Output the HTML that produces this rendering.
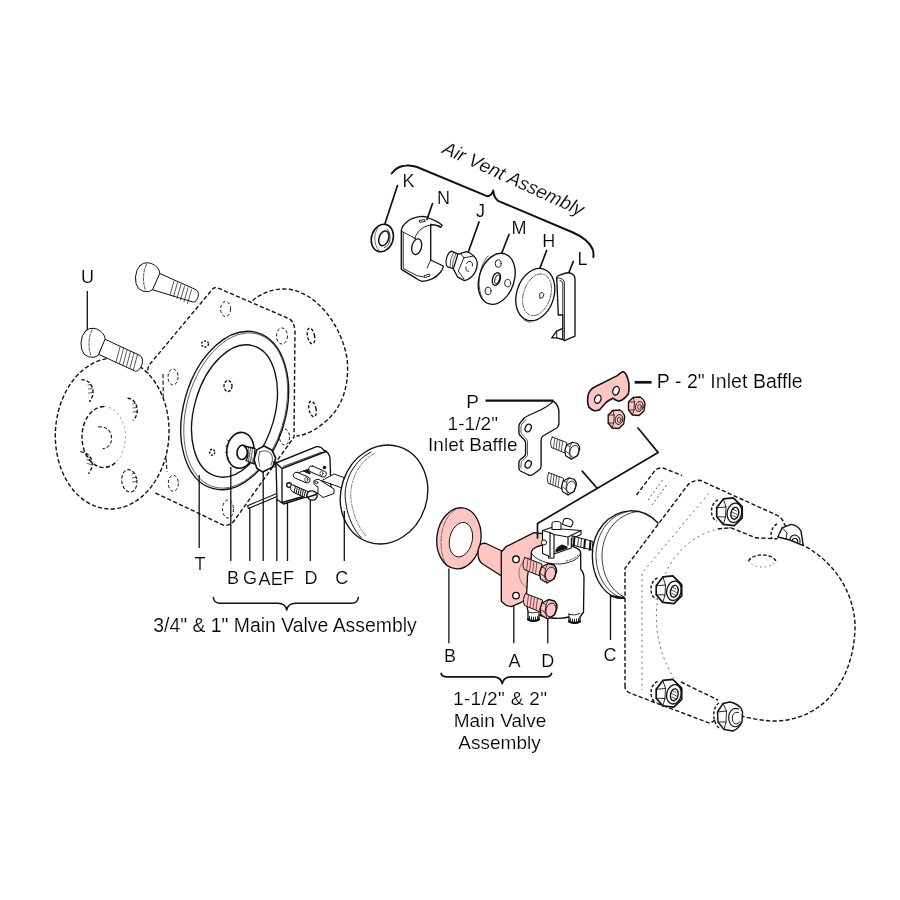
<!DOCTYPE html>
<html><head><meta charset="utf-8"><title>Parts Diagram</title>
<style>
html,body{margin:0;padding:0;background:#fff;}
body{width:900px;height:900px;overflow:hidden;}
svg{display:block;}
text{font-family:"Liberation Sans",Arial,Helvetica,sans-serif;fill:#000;stroke:#fff;stroke-width:.16px;filter:grayscale(1);}
.l{fill:none;stroke:#111;stroke-width:1.35;stroke-linecap:round;stroke-linejoin:round;}
.w{fill:#fff;stroke:#111;stroke-width:1.35;stroke-linecap:round;stroke-linejoin:round;}
.p{fill:#fdc6c3;stroke:#111;stroke-width:1.35;stroke-linecap:round;stroke-linejoin:round;}
.d{fill:none;stroke:#111;stroke-width:1.4;stroke-dasharray:4.2 2.3;stroke-linecap:butt;stroke-linejoin:round;}
.dw{fill:#fff;stroke:#111;stroke-width:1.4;stroke-dasharray:4.2 2.3;}
.t{fill:none;stroke:#111;stroke-width:0.7;stroke-linecap:round;}
.ld{fill:none;stroke:#111;stroke-width:1.3;}
.lb{fill:none;stroke:#111;stroke-width:2;stroke-linecap:round;stroke-linejoin:round;}
.lab{font-size:18px;text-anchor:middle;}
.cap{font-size:19px;text-anchor:middle;}
</style></head>
<body>
<svg width="900" height="900" viewBox="0 0 900 900">
<rect width="900" height="900" fill="#fff"/>
<!--LEFT-->
<g id="left">
<!-- rear flange -->
<path class="d" d="M252.5,300.5 C262,293 272,289 284,289 C312,289 340,320 347,358 C350,385 342,408 326,421 C316,430 306,435 296.5,436"/>
<ellipse class="d" cx="311" cy="336" rx="3.5" ry="8" transform="rotate(-12 311 336)" style="stroke-dasharray:3 2"/>
<ellipse class="d" cx="312.5" cy="409" rx="3.5" ry="8" transform="rotate(-12 312.5 409)" style="stroke-dasharray:3 2"/>
<!-- body plate -->
<path class="d" d="M155.5,493 L224,525.4 Q230,526 234,521 L294,437 L295,331 Q294,321 289,318.7 L218,288 Q214,286 211,291 L150,364 Q147,368 148,374"/>
<path class="d" style="stroke-width:1.100" d="M163,374 L163.500,420 L167,472"/>
<!-- plate holes -->
<ellipse class="d" cx="225.6" cy="309" rx="5" ry="7.5" style="stroke-dasharray:3 2.200;stroke-width:1"/>
<ellipse class="d" cx="282" cy="336" rx="5.5" ry="8" style="stroke-dasharray:3 2.200;stroke-width:1"/>
<ellipse class="d" cx="173" cy="377" rx="5" ry="8" style="stroke-dasharray:3 2.200;stroke-width:1"/>
<ellipse class="d" cx="205" cy="344" rx="3.5" ry="3" style="stroke-dasharray:2 1.5"/>
<ellipse class="d" cx="284.5" cy="437" rx="5" ry="8" style="stroke-dasharray:3 2.200;stroke-width:1"/>
<ellipse class="d" cx="173.3" cy="483.3" rx="5" ry="8" style="stroke-dasharray:3 2.200;stroke-width:1"/>
<ellipse class="d" cx="228" cy="509" rx="5.500" ry="9" style="stroke-dasharray:3 2.200;stroke-width:1"/>
<!-- left flange -->
<ellipse class="dw" cx="112.2" cy="433.5" rx="56.8" ry="75.5" transform="rotate(3 112 433)"/>
<path class="d" d="M104,406.500 A22,30.500 0 0 0 104,467.500 Q112,467 117,461"/><path class="d" d="M104,406.500 A22,30.500 0 0 1 117,461" style="stroke-width:.7;stroke:#666;stroke-dasharray:2 3"/>
<path class="d" d="M98.200,426.700 Q111,426.500 111.600,438.200 Q111.500,447 102.700,448.900" style="stroke-dasharray:3.500 2;stroke-width:1.100"/>
<path class="d" d="M81.300,379.600 Q91,380 92.900,390.200 Q93.500,397 89.300,401.800" style="stroke-dasharray:3.500 2"/>
<path class="t" d="M88,385 l3,-.7 M88.500,389 l3.500,-.5 M88.500,393 l3.500,-.3"/>
<path class="d" d="M127.600,398.200 Q136,399 137.300,409.800 Q137.500,416 132.900,420.400" style="stroke-dasharray:3.500 2"/>
<path class="t" d="M132.500,404 l3,-.7 M133,408 l3.500,-.5 M133,412 l3.500,-.3"/>
<ellipse class="d" cx="129.300" cy="480.900" rx="7.500" ry="11.300" transform="rotate(-8 129.300 480.900)" style="stroke-dasharray:3.500 2;stroke-width:1.100"/>
<path class="t" d="M132,474 l3,-.7 M132.500,478 l3.500,-.5 M132.500,482 l3.500,-.3"/>
<path class="d" d="M80.400,451.600 Q90,453 92,461.300 Q93,468 88.400,473.800" style="stroke-dasharray:3.500 2"/>
<path class="t" d="M86,456 l3.500,1.500 M87,459.500 l3.500,1.500 M87.500,463.500 l3.500,1"/>
<!-- bolts U -->
<g class="w" style="stroke-width:1">
<path d="M104.5,339 L140,355.5 C145,358 142,371 135.500,371.3 L99,354.5Z"/>
<path d="M85.500,331 Q89,327.500 94,328.300 Q101,329.500 104.500,336 L105.200,339 L98,355.500 L94,357.300 Q88,358 84,354 Q80.500,349.500 81,342.500 Q81.500,335 85.500,331Z"/>
<path d="M159.4,273.3 L196,289.7 C200.500,292 198,302.500 192.900,302 L152.4,289.7Z"/>
<path d="M140,265.500 Q143.500,262 148.500,262.800 Q155.500,264 159,270 L159.800,273.500 L152.500,289.800 L148.500,291.700 Q142.500,292.300 138.500,288.500 Q135,284 135.500,277 Q136,269.500 140,265.500Z"/>
</g>
<g class="t">
<path d="M120,347 l-4,15 M123.500,348.500 l-4,15 M127,350 l-4,15 M130.500,351.500 l-4,15 M134,353 l-4,15 M137.500,354.500 l-4,15"/>
<path d="M174,281 l-4,14 M177.500,282.700 l-4,14 M181,284.400 l-4,14 M184.500,286.100 l-4,14 M188,287.800 l-4,14 M191.500,289.500 l-4,14"/>
<path d="M92,330 Q86.500,342 91,356 M146.500,264.500 Q141,277 145.500,290.500" style="stroke-dasharray:3 1.500"/>
</g>
<!-- O-ring T -->
<ellipse class="w" cx="234.7" cy="410.5" rx="51" ry="81" transform="rotate(16 234.7 410.5)" style="fill:none"/>
<ellipse class="l" cx="235.7" cy="410.5" rx="49" ry="79.500" transform="rotate(16 235.7 410.5)" style="stroke-width:.6"/>
<ellipse class="l" cx="234.5" cy="411" rx="40.2" ry="67.8" transform="rotate(16 234.5 411)"/>
<ellipse class="d" cx="228" cy="386" rx="4" ry="5.5" style="stroke-dasharray:3 1.500;stroke-width:1.300"/>
<ellipse class="d" cx="212.2" cy="452.2" rx="2.500" ry="3" style="stroke-dasharray:2 1.500"/>

<!-- washer B -->
<ellipse class="w" cx="240.3" cy="450.3" rx="13.5" ry="18" transform="rotate(8 240.3 450.3)" style="stroke-width:1.600"/>
<path class="t" d="M229,441 l-2,-1 M228,446 l-2.500,0 M228,452 l-2.500,.5 M229,458 l-2,1"/>
<ellipse class="w" cx="242.300" cy="452.3" rx="5.2" ry="7.2" transform="rotate(8 242 452)" style="stroke-width:1.600"/>
<!-- stem + fitting A -->
<path class="w" d="M244,446 L255,448.500 L254,464 L246,460.500 C249,456 249,450 244,446Z"/>
<path class="t" d="M248.500,447.500 Q246.500,454 248.500,461.500 M250.500,448 Q248.500,455 250.500,462.400 M252.500,448.400 Q250.500,455.500 252.500,463.300"/>
<path class="w" d="M256.9,449.6 L264.1,446 L272.1,450.3 L275.7,458.2 L272.8,466.9 L262.7,472 L256.9,468.4 L254,459.7Z" style="stroke-width:1.600"/>
<path class="t" d="M259.500,452 Q266,449 271,453.500 Q274,459 271,465 M259.500,452 Q257,459 259.500,466"/>
<path class="l" d="M273,462 l3,1.500 l-1,3.500 l-3,-1" style="stroke-width:1"/>
<!-- pin G -->
<path class="w" d="M247.5,505.700 L281,491.700 L282,494.500 L248.500,508.500Z" style="stroke-width:1.100"/>
<!-- valve plate F -->
<path class="w" d="M276,463 L316.500,446.700 Q321.500,446.500 323.500,450 Q329,452 330,458 L331,489 L283.500,504 L277,499.500Z"/>
<path class="l" d="M282,468.500 L326,451.500 M282,468.500 L282,502.500 L305,496 M276,463 L282,468.500" />
<path class="l" d="M283.500,466.300 L322,452" style="stroke-width:.8"/>
<circle class="l" cx="289" cy="485" r="2.300"/>
<path d="M303,471 L310,468.500 L310,474Z" fill="#111" stroke="#111" stroke-width=".8"/>
<path class="l" d="M296.500,473.500 L303,471" style="stroke-width:1"/>
<path class="w" d="M297.300,472.300 L308,477 A3,3 0 0 1 306,482.800 L295.500,478.200 A3,3 0 0 1 297.300,472.300Z" style="stroke-width:1"/>
<ellipse class="l" cx="306.300" cy="479.600" rx="1.500" ry="2.300" style="stroke-width:.7"/>
<path class="w" d="M312.500,466 L324,471 A3,3 0 0 1 322.500,477 L311,472 A3,3 0 0 1 312.500,466Z" style="stroke-width:1"/>
<ellipse class="l" cx="321.500" cy="473.500" rx="1.500" ry="2.300" style="stroke-width:.7"/>
<circle cx="324.500" cy="467.500" r="1.700" fill="#111"/>
<!-- arm to float -->
<path class="w" d="M322,480.500 L334,474 L344,477.500 L342,487.500Z" style="stroke-width:1"/>
<path class="w" d="M314,481 Q316,478.500 319,479.500 L334,489 L334,493.500 L323,497.500 L318,493.500 L318,487 Q313,485 314,481Z" style="stroke-width:1"/>
<circle class="l" cx="316.500" cy="482.500" r="1.300" style="stroke-width:.8"/>
<!-- screw D spring -->
<path class="w" d="M294,485.500 L308,491.500 L306,498 L292.500,492 A2,3.400 -20 0 1 294,485.500Z" style="stroke-width:1"/>
<path class="l" d="M295.500,486 l-1.500,6.500 M297.500,487 l-1.500,6.500 M299.500,488 l-1.500,6.500 M301.500,488.800 l-1.500,6.500 M303.500,489.600 l-1.500,6.500 M305.500,490.500 l-1.500,6.500" style="stroke-width:1"/>
<ellipse class="w" cx="312" cy="495.500" rx="5.200" ry="4.600" transform="rotate(20 312 495.5)"/>
<path class="l" d="M308.500,497 L316,494.500" style="stroke-width:1.400"/>
<!-- float C -->
<ellipse class="w" cx="384" cy="494.500" rx="43" ry="50" transform="rotate(18 384 494.500)"/>
<path class="l" d="M371,452 C352,462 342,484 346,504 C348,518 354,530 361,537.500" style="stroke-width:1"/>
<path class="t" d="M375,453 C357,463 348,484 351.500,503 C353.500,516 359,528 366,536" style="stroke-dasharray:5 1.500 2 1.500;stroke-width:.5"/>
<!-- leaders -->
<path class="ld" d="M87.300,291 V330 M199.200,475 V548 M230.800,467 V561 M249.800,507.500 V561 M263.200,471.500 V561 M276.800,499 V561 M287.500,503 V561 M310.300,500 V561 M344.300,511 V561"/>
<path class="lb" style="stroke-width:1.500" d="M213.300,597.500 Q214,603.300 220,603.300 L278,603.300 Q285.500,603.500 286.700,610 Q288,603.500 295.500,603.300 L352,603.300 Q357.500,603.300 358.300,597.500"/>
<g class="lab">
<text x="87.500" y="282.500">U</text>
<text x="200" y="569.500">T</text>
<text x="233" y="584">B</text>
<text x="250" y="584">G</text>
<text x="264.500" y="585">A</text>
<text x="276.800" y="585">E</text>
<text x="288.500" y="584">F</text>
<text x="311" y="584">D</text>
<text x="341.700" y="584">C</text>
</g>
<text class="cap" x="153.300" y="631.800" style="text-anchor:start;font-size:19.400px" textLength="263.400" lengthAdjust="spacing">3/4" &amp; 1" Main Valve Assembly</text>
</g>
<!--VENT-->
<g id="vent">
<!-- brace -->
<path class="lb" style="stroke-width:2" d="M391.700,173.500 Q397,166 406,165.500 Q412,165 417,167 L487,196.200 Q491.500,196 493.300,190.500 Q493.500,197 498,200.800 L573,232.500 Q588,239 592.500,249 Q594,253 593.300,257"/>
<text transform="translate(441.300,152.700) rotate(24.600)" style="font-size:18.900px;font-style:italic">Air Vent Assembly</text>
<!-- K washer -->
<ellipse class="w" cx="382.300" cy="238" rx="10.800" ry="14" transform="rotate(17 382.300 238)" style="stroke-width:1.600"/>
<path class="l" d="M387,229 C392,233 391,246 384.500,247.500" style="stroke-width:.8"/><path class="l" d="M378,228 C373,234 374,246 379,250" style="stroke-width:.6"/>
<ellipse class="l" cx="383.800" cy="238.300" rx="4.700" ry="7.600" transform="rotate(20 383.800 238.300)" style="stroke-width:1.500"/>
<!-- N clip -->
<path class="w" d="M401.300,230.700 C402,224 410,218 419.300,216.700 C424,216.200 428,217.500 428.700,218 L436.700,221.300 Q440,223 442,225.300 L440.700,227.300 Q436,224.500 430.700,224.300 L430.700,260 L443.300,266 Q443,269.500 440.700,272 Q437,276.500 432.700,278.700 Q427,281.300 422,281.300 Q419,280.500 416.700,278.700 L401.300,269.300Z"/>
<path class="l" d="M439.500,225.800 C428,222.500 418,228 414.500,239 M403.200,232.300 L403.200,268.500 L416.700,275.500 L424,277 M402,231.500 L415.500,238.500 M430.700,260 L427,268 M419.500,220.500 l5,-1 l.8,1.800 l-5,1z M424.500,275.500 l5,-1.500 l.5,2 l-5,1.500z" style="stroke-width:.9"/>
<ellipse class="w" cx="416.700" cy="246.700" rx="4.800" ry="8" transform="rotate(14 416.700 246.700)"/>
<!-- J fitting -->
<path class="w" d="M451.700,251.100 L458.500,254.400 L454,269 L447.500,266.900 C444.500,263.500 446.500,253 451.700,251.100Z" style="stroke-width:1.200"/>
<path class="t" d="M453.500,252.500 Q449.500,259 450,267.300 M456,253.500 Q452,260.500 452.300,268.200"/>
<path class="w" d="M457.800,254.400 L466.100,251.700 Q470.500,252.500 473.300,255.600 Q476.800,258.500 477.200,262.200 Q477.500,267.500 475.600,271.100 Q474,275 471.100,277.200 Q468,280 464.400,280.600 L457.800,277.200 L453.300,268.900Z" style="stroke-width:1.300"/>
<path class="l" d="M463.900,257.800 L473.300,256.100 M463.900,257.800 L458.300,271.100 L463.900,278.900 M463.900,257.800 L461,254" style="stroke-width:.9"/>
<path class="l" d="M466.500,263.500 A3.300,4.300 15 0 1 472.500,266 M466,267 A3.300,4.300 15 0 0 468.500,271.500" style="stroke-width:.9"/>
<!-- M disc -->
<ellipse class="w" cx="496.700" cy="278.800" rx="17.500" ry="26.200" transform="rotate(18 496.700 278.800)"/>
<path class="t" d="M488,256 C478,267 476,290 484,301"/>
<ellipse class="l" cx="498.200" cy="263.600" rx="3" ry="3.800" style="stroke-width:.9"/>
<ellipse class="l" cx="507.600" cy="283.100" rx="3" ry="3.800" style="stroke-width:.9"/>
<ellipse class="l" cx="488" cy="291" rx="3" ry="3.800" style="stroke-width:.9"/>
<ellipse class="l" cx="496.400" cy="279" rx="3.800" ry="6.500" transform="rotate(18 496.400 279)"/>
<ellipse class="l" cx="497.200" cy="279.300" rx="2.200" ry="4.600" transform="rotate(18 497.200 279.300)" style="stroke-width:.9"/>
<!-- H disc -->
<ellipse class="w" cx="535.300" cy="294.600" rx="18.600" ry="26.800" transform="rotate(18 535.300 294.600)"/>
<ellipse class="t" cx="537" cy="294.800" rx="13.500" ry="21.500" transform="rotate(18 537 294.800)" style="stroke-dasharray:5 1.500 1.500 1.500;stroke-width:.6"/>
<path class="l" d="M540,293.500 l2,-1.200 l1.800,2.200 l-1,3 l-2.500,.8 z" style="stroke-width:.9"/>
<path class="t" d="M524,320 l6,2.500"/>
<!-- L piece -->
<path class="w" d="M556.700,278 Q556.700,276 559,275.300 L566,273 Q571,272 574,275.500 Q575,277 575,279 L575,336.100 L564.400,340.600 L562.800,339.500 L562.800,328.300 L556.700,331.100 L551.700,337.800 L556.700,337.800 L562.800,339.500 L562.800,315 L558.300,315Z"/>
<path class="l" d="M556.700,278 Q560,277.500 562.800,279.500 Q564.400,281 564.400,283 L564.400,340.600 M562.800,315 L562.800,283 Q562.500,281 560,280.500 M556.700,331.100 L556.700,337.800" style="stroke-width:.9"/>
<!-- leaders -->
<path class="lb" style="stroke-width:1.700" d="M397.500,185.500 L385,223.500 M432.500,203.500 L427,219.500 M479,222 L468.300,252 M509,234.500 L501.800,253 M546.600,250.500 L540,268 M573.300,261.500 L569,272.300"/>
<g class="lab">
<text x="408.500" y="186.500">K</text>
<text x="443.500" y="204">N</text>
<text x="480.500" y="216.500">J</text>
<text x="519" y="234">M</text>
<text x="548.800" y="247">H</text>
<text x="582.500" y="264.500">L</text>
</g>
</g>
<!--RIGHT-->
<g id="right">
<!-- cover back plate -->
<path class="d" d="M636.500,495 L655,470.500 Q658,467.500 663,468 L682,475.500"/>
<path class="d" style="stroke-width:.7;stroke-dasharray:2 2.500" d="M648,500 L664,478 M652,505 L668,483"/>
<!-- float C right -->
<path class="w" d="M658,523 C650,514 640,510.500 630,510.800 C608,512 592.300,532 592.300,555 C592.300,576 602,593 617,598 L660,600Z"/>
<path class="l" d="M628,511.500 C608,515 595.500,535 596,557 C596.500,575 605.500,591 619,597 M638,511.500 C616,514 601.500,534 602,557 C602.500,575 610,590 624,597" style="stroke-width:.8"/>
<path class="l" d="M610.500,596 L625,597.800" style="stroke-width:1.800"/>
<!-- cover front plate -->
<path class="dw" d="M625,686.700 L625,568.300 L687,486 Q691,480.500 700,480.300 L777.800,515.600 Q783,519 784.400,524.400 L803,545 C840,565 856,600 855,630 C852,690 815,722 772,721 C755,720 740,716 728,712 L710,723.300 L631,693.500 Q625,691 625,686.700Z"/>
<path class="d" d="M708.700,493.500 L642,573 L642,690" style="stroke-width:.8;stroke-dasharray:2 3.500;stroke:#444"/>
<!-- dome -->
<path class="d" d="M731,527.800 C700,528 672,550 661,585 C652,615 656,650 674,678" style="stroke-width:.8;stroke-dasharray:2 3.500;stroke:#444"/>
<path class="d" d="M717.800,528.900 L731,527.800 L755.600,537.800 L777.800,538.900"/>
<path class="d" d="M748.500,561 A14.500,9 0 0 1 776,561" style="stroke-dasharray:3.500 2"/>
<path class="d" d="M748.500,561 A14.500,9 0 0 0 776,561" style="stroke-dasharray:1.500 3;stroke-width:.6"/>
<!-- nuts -->
<g id="nut1">
<path class="d" d="M718,500 C710,503 709,518 717,521" style="stroke-dasharray:3 2"/>
<path class="w" d="M716.700,507.800 L723.300,498.900 L733.300,497.800 L742.200,506.700 L742.200,517.800 L734.400,525.600 L723.300,524.400 L716.700,516.700Z" style="stroke-width:1.700"/>
<path class="l" d="M723.300,498.900 L726,507 L725.500,517 L723.300,524.400 M716.700,507.800 L726,507 M716.700,516.700 L725.500,517" style="stroke-width:.9"/>
<ellipse class="l" cx="734.400" cy="512.800" rx="7.200" ry="9.800" transform="rotate(12 734.400 512.800)" style="stroke-width:1.300"/>
<ellipse class="l" cx="734.800" cy="513.300" rx="3.800" ry="6" transform="rotate(12 734.800 513.300)" style="stroke-width:1.400"/>
<path class="t" d="M732.500,509 l4,2 M732,512 l5,2.500 M732.500,515.500 l4,2"/>
</g>
<use href="#nut1" transform="translate(-60.500,78)"/>
<use href="#nut1" transform="translate(-60.500,181.500)"/>
<path class="d" d="M681,682 L718,700"/>
<g>
<path class="d" d="M719,703 C712,707 712,722 719,728" style="stroke-dasharray:3 2"/>
<path class="w" d="M717.500,712 L723,703.500 L730,702 Q736,703 741,708 L742.500,712 L742,722 Q739,728.500 733,731 L724,729.500 L718,722Z" style="stroke-width:1.400"/>
<path class="l" d="M723,703.500 L726.500,711 L726,722 L724,729.500 M717.500,712 L726.500,711 M718,722 L726,722" style="stroke-width:.9"/>
<path class="l" d="M738.500,709 C732,706.500 727.500,713 729,720.500 C730.500,727.500 737,729 741,723" style="stroke-width:1.200"/>
<path class="l" d="M738.500,712.500 C734,711 731.500,715.500 732.500,720 C733.500,724.500 737.500,725.500 740,721.500" style="stroke-width:1"/>
</g>
<g>
<path class="d" d="M777,524 C771,527 770,535 772,539" style="stroke-dasharray:3 2"/>
<path class="w" d="M777.800,537 L782.200,527.800 L791,524.400 Q798,525.500 801,531 L803.300,545.600 L790,540Z" style="stroke-width:1.400"/>
<path class="l" d="M782.200,527.800 L787,533 L786,539" style="stroke-width:.9"/>
<path class="l" d="M789.500,540 A5,6 0 0 1 800,543 M792,540.800 A3,4 0 0 1 797.800,542.500" style="stroke-width:1.100"/>
</g>
<!-- pink washer B -->
<ellipse class="p" cx="458.900" cy="538.300" rx="22" ry="30.600" transform="rotate(7 458.900 538.300)"/>
<path class="t" d="M455,510 C441,518 436,548 447,566" style="stroke-dasharray:6 1.500;stroke-width:.5"/>
<ellipse class="w" cx="460.900" cy="539.700" rx="11.300" ry="17.500" transform="rotate(13 460.900 539.700)" style="stroke-width:.9;stroke-dasharray:5 .8"/>
<!-- pink tube + plate -->
<path class="p" d="M503,551.500 L486,543.500 Q479,542 478,551 Q477.500,560 482,563.500 L503,577Z"/>
<path class="p" d="M501.300,552 L506,546.700 L534,532.700 L545,534 L545,560 L530,580 L528,598 L520.700,602.700 L511.300,606.700 L506,605.300 L501.300,601.300Z"/>
<path class="p" d="M529,558 C517,562 515,580 527,588 L540,590 L540,560Z" style="stroke-width:.7;stroke:#7a4a48"/>
<circle class="w" cx="516" cy="559.300" r="3.300"/>
<circle class="w" cx="516" cy="595.600" r="3.300"/>
<!-- valve body -->
<path class="w" d="M531.300,553 C531,548 540,544 554,544 C570,544 580.500,548 580.700,553 L580.700,569.300 Q584,573 584,578 L583.500,612 L580,617 L580,621.500 Q575,624 569,621.500 L569,617 Q555,620.500 539,615 L539,619.500 Q533,622 528,619.500 L528,611 Q526,605 526.500,598 L527.500,576 Q529,566 531.300,558Z"/>
<path class="l" d="M531.300,553 C535,560 548,564.500 560,564 C572,563 580,558 580.700,553 M539,615 L539,611 M569,617 L569,613.500 M528,612 Q533,614 539,612 M569,614.500 Q575,616 580,613.500" style="stroke-width:.9"/>
<path class="t" d="M566,561 C572,560 577,557 579,554" style="stroke-dasharray:1.500 1.500"/>
<path class="l" d="M528,619.500 Q533.500,622.300 539,619.500 M569,621.500 Q575,624.300 580,621.500" style="stroke-width:2.200"/>
<path class="l" d="M529.500,616.500 v3.500 M531.500,617 v3.800 M533.500,617.200 v4 M535.500,617 v3.800 M537.500,616.500 v3.500 M570.500,618.500 v3.500 M572.500,619 v3.800 M574.500,619.200 v4 M576.500,619 v3.800 M578.500,618.500 v3.500" style="stroke-width:.9"/>
<!-- clevis -->
<path class="w" d="M542.500,530.500 L553,527 L562,529 L581,530.500 L581,534.500 L571.300,539 L571.300,548 L554,554 L554,558 L548.500,558 L548.500,556 L542.500,553.500Z" style="stroke-width:1.100"/>
<path class="l" d="M542.500,530.500 L550,532.500 L550,557 M554,534.500 L568,537 L581,530.500 M554,534.500 L554,554 M568,537 L568,545 M550,532.500 L554,534.500 M557,548 L562,545 L567,547" style="stroke-width:1.200"/>
<path d="M555.500,549.500 L562,545 L567.500,547.500 L567.500,548.500 L555.500,552.500Z" fill="#111"/>
<path class="w" d="M552,523.500 Q552,521.500 556.500,521.500 Q561,521.500 561,523.500 L561,529.500 L552,529.500Z" style="stroke-width:1.100"/>
<path class="w" d="M563.500,520 Q565,517.500 569,518.800 Q573.500,520.500 573,523 L571,527 L562.500,524.500Z" style="stroke-width:1.100"/>
<circle class="w" cx="544" cy="542.500" r="2.600" style="stroke-width:1"/>
<!-- rod to float -->
<path class="w" d="M572.500,536 L593,541.500 L592,550 L572,545Z" style="stroke-width:1"/>
<path class="l" d="M574.500,536.800 l-.8,8.500 M585,539.800 l-.8,8.500 M590.500,541.300 l-.8,8.500" style="stroke-width:2"/>
<path class="l" d="M578.500,538 l-.8,8 M581.500,538.800 l-.8,8" style="stroke-width:.8"/>
<!-- pink bolts -->
<g id="pbolt">
<path class="p" d="M525,557.500 L542,564 L540,576 L524,569.500 Q521.500,563 525,557.500Z" style="stroke-width:1"/>
<path class="l" d="M528,559 l-1.500,11.500 M531,560 l-1.500,11.500 M534,561.200 l-1.500,11.500 M537,562.300 l-1.500,11.500" style="stroke-width:.8;stroke:#5a2a2a"/>
<path class="p" d="M541.500,567 L548,563.500 L554,565 Q557,568 556.500,572 L554,579 L547,583 L540.500,579 L539.500,573Z"/>
<ellipse class="l" cx="550.500" cy="574" rx="5" ry="7" transform="rotate(15 550.500 574)" style="stroke-width:.9"/>
<path class="l" d="M548,563.500 L545.500,568.500 L544.500,576.500 L547,583 M541.500,567 L545.500,568.500 M539.500,573 L544.500,576.500" style="stroke-width:.8"/>
</g>
<use href="#pbolt" transform="translate(.5,36)"/>
<!-- P 1-1/2 baffle -->
<path class="w" d="M553.300,401.100 Q558.500,405 558.900,411.100 L558.900,424 Q558.500,427.500 555,429 L543,436 Q541,437.500 541.100,440 L541.100,466 Q541,468.500 539,470 L533,474.500 Q531,476 528.500,475 L520.500,471 Q518.900,470 518.900,468 L518.900,462.500 Q519,460.500 520.500,459.500 L524,456.500 Q525.600,455.500 525.600,453.500 L525.600,443 Q525.600,441 524,439.500 L520.500,436 Q518.900,434.500 518.900,432.500 L518.900,426 Q519,424 520.500,422.500 L524.400,417.800 Q528,415.500 535,412.500 Q548,407 553.300,401.100Z"/>
<path class="l" d="M526,419.500 L522,424 Q521,425 521,427 L521,432 Q521,433.500 522.500,435 L526,438.500 Q527.500,440 527.500,442 L527.500,454 Q527.500,456 526,457.500 L522.500,460.500 Q521,461.500 521,463.500 L521,468" style="stroke-width:.7"/>
<ellipse class="l" cx="528.200" cy="428" rx="2.900" ry="3.900" transform="rotate(25 528.200 428)"/>
<ellipse class="l" cx="528.200" cy="464.300" rx="2.900" ry="3.900" transform="rotate(25 528.200 464.300)"/>
<!-- P bolts -->
<g id="wbolt" transform="translate(573.500,450.500) scale(.87) translate(-549.500,-573)">
<path class="w" d="M525,557.500 L542,564 L540,576 L524,569.500 Q521.500,563 525,557.500Z" style="stroke-width:1"/>
<path class="l" d="M528,559 l-1.500,11.500 M531,560 l-1.500,11.500 M534,561.200 l-1.500,11.500 M537,562.300 l-1.500,11.500" style="stroke-width:.8"/>
<path class="w" d="M541.500,567 L548,563.500 L554,565 Q557,568 556.500,572 L554,579 L547,583 L540.500,579 L539.500,573Z"/>
<ellipse class="l" cx="550.500" cy="574" rx="5" ry="7" transform="rotate(15 550.500 574)" style="stroke-width:.9"/>
<path class="l" d="M548,563.500 L545.500,568.500 L544.500,576.500 L547,583 M541.500,567 L545.500,568.500 M539.500,573 L544.500,576.500" style="stroke-width:.8"/>
</g>
<use href="#wbolt" transform="translate(-3.300,35.700)"/>
<!-- P-2 baffle pink -->
<path class="p" style="stroke-width:1.600" d="M587.600,401.800 Q587.500,395 589.800,391.100 Q592,388 595.100,386.700 L617.300,375.600 Q620,373 622.700,371.600 Q625,372.500 626.200,374.700 Q628,378.500 628.900,383.100 Q629.300,389 628.400,393.800 Q625,399 619.100,401.300 Q615.500,400.500 612.900,398.200 Q609,400 605.800,402.700 L599.600,409.800 Q597,411 594.200,410.700 Q591,409.500 588.900,407.100 Q587.800,404.500 587.600,401.800Z"/>
<ellipse class="w" cx="597.800" cy="399.100" rx="3.100" ry="4.200" transform="rotate(20 597.800 399.100)"/>
<ellipse class="w" cx="616" cy="390.700" rx="3.100" ry="4.400" transform="rotate(20 616 390.700)"/>
<g id="pnut">
<path class="p" d="M628.500,402 L633,397.500 L640,397 Q644.500,399.500 645,404 L644,411 L639,415.500 L632.500,415 L628.500,410Z"/>
<path class="l" d="M633,397.500 L634.500,402 L634,410 L632.500,415 M628.500,402 L634.500,402 M628.500,410 L634,410" style="stroke-width:.8"/>
<ellipse class="l" cx="639.300" cy="406.500" rx="3.800" ry="5" transform="rotate(15 639.300 406.500)" style="stroke-width:.9"/>
<ellipse class="l" cx="639.500" cy="406.800" rx="1.800" ry="2.600" style="stroke-width:.8"/>
</g>
<use href="#pnut" transform="translate(-20.300,13)"/>
<!-- leaders -->
<path class="lb" style="stroke-width:2.200;stroke-linecap:butt" d="M485.600,400.700 H553.300"/><path class="lb" style="stroke-width:2.700;stroke-linecap:butt" d="M634.700,382.300 H651.600"/>
<path class="lb" style="stroke-width:1.700" d="M638,428 L658.200,452.600 L537.500,523.500 L537.500,538 M582.200,471.100 L596.700,487.800"/>
<path class="ld" d="M448.900,568.500 V643.300 M513.800,606 V643.300 M547.800,618.500 V643.300 M610.500,596.700 V640"/>
<path class="lb" style="stroke-width:1.800" d="M441.100,673.500 Q442,676.800 447,676.800 L494,676.800 Q501,677.200 502.200,683.500 Q503.500,677.200 510.500,676.800 L546,676.800 Q550.500,676.800 551.500,673.500"/>
<g class="lab">
<text x="450" y="662">B</text>
<text x="514.400" y="666.500">A</text>
<text x="547.800" y="666.500">D</text>
<text x="610" y="660.500">C</text>
</g>
<g class="cap">
<text x="472.500" y="408">P</text>
<text x="447.500" y="429.500" style="text-anchor:start" textLength="50.500" lengthAdjust="spacing">1-1/2"</text>
<text x="472.800" y="451">Inlet Baffle</text>
<text x="453" y="705" style="text-anchor:start" textLength="94" lengthAdjust="spacing">1-1/2" &amp; 2"</text>
<text x="500" y="726.800">Main Valve</text>
<text x="499.500" y="748.700">Assembly</text>
<text x="656.700" y="388.300" style="text-anchor:start;font-size:19.500px" textLength="146" lengthAdjust="spacing">P - 2" Inlet Baffle</text>
</g>
</g>
<!--TEXT-->
<g id="labels">
</g>
</svg>
</body></html>
